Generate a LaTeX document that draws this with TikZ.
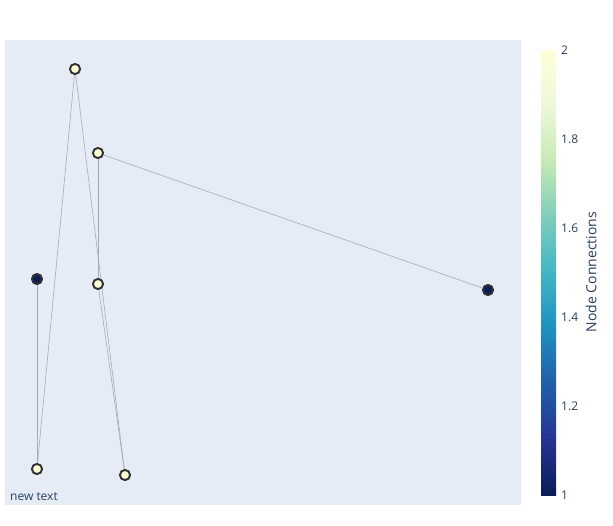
\documentclass[tikz,border=0pt]{standalone}
\usepackage{fontspec}
\setmainfont{Open Sans}
\definecolor{plotbg}{RGB}{229,236,246}
\definecolor{fontc}{RGB}{42,63,95}
\definecolor{edgec}{RGB}{170,170,178}
\definecolor{ring}{RGB}{50,50,50}
\definecolor{cA}{RGB}{8,29,88}
\definecolor{cB}{RGB}{37,52,148}
\definecolor{cC}{RGB}{34,94,168}
\definecolor{cD}{RGB}{29,145,192}
\definecolor{cE}{RGB}{65,182,196}
\definecolor{cF}{RGB}{127,205,187}
\definecolor{cG}{RGB}{199,233,180}
\definecolor{cH}{RGB}{237,248,217}
\definecolor{cI}{RGB}{255,255,217}
\tikzset{
  gnode/.style={circle,draw=ring,line width=1.8pt,minimum size=10pt,inner sep=0pt},
  hi/.style={gnode,fill=cI},
  lo/.style={gnode,fill=cA},
  edge/.style={draw=edgec,line width=0.6pt},
  tick/.style={anchor=west,text=fontc,font=\fontsize{12}{14}\selectfont,inner sep=0pt}
}
\begin{document}
\begin{tikzpicture}[x=1pt,y=-1pt]
\useasboundingbox[fill=white] (0,0) rectangle (613,525);
\fill[plotbg] (5,40) rectangle (521,505);
% nodes
\node[hi] (a) at (75,69) {};
\node[hi] (b) at (98,153) {};
\node[lo] (c) at (37,279) {};
\node[hi] (d) at (98,284) {};
\node[lo] (e) at (488,290) {};
\node[hi] (f) at (37,469) {};
\node[hi] (g) at (125,475) {};
\begin{scope}[on background layer/.try]
\end{scope}
\draw[edge] (a.center) -- (f.center);
\draw[edge] (a.center) -- (g.center);
\draw[edge] (b.center) -- (d.center);
\draw[edge] (b.center) -- (e.center);
\draw[edge] (c.center) -- (f.center);
\draw[edge] (d.center) -- (g.center);
\node[hi] at (a) {};
\node[hi] at (b) {};
\node[lo] at (c) {};
\node[hi] at (d) {};
\node[lo] at (e) {};
\node[hi] at (f) {};
\node[hi] at (g) {};
% colorbar
\shade[top color=cB,bottom color=cA] (541,439.375) rectangle (556,495);
\shade[top color=cC,bottom color=cB] (541,383.75) rectangle (556,439.375);
\shade[top color=cD,bottom color=cC] (541,328.125) rectangle (556,383.75);
\shade[top color=cE,bottom color=cD] (541,272.5) rectangle (556,328.125);
\shade[top color=cF,bottom color=cE] (541,216.875) rectangle (556,272.5);
\shade[top color=cG,bottom color=cF] (541,161.25) rectangle (556,216.875);
\shade[top color=cH,bottom color=cG] (541,105.625) rectangle (556,161.25);
\shade[top color=cI,bottom color=cH] (541,50) rectangle (556,105.625);
\node[tick] (t1) at (561,495) {1};
\node[tick] (t2) at (561,406) {1.2};
\node[tick] (t3) at (561,317) {1.4};
\node[tick] (t4) at (561,228) {1.6};
\node[tick] (t5) at (561,139) {1.8};
\node[tick] (t6) at (561,50) {2};
\node[text=fontc,font=\fontsize{14}{16}\selectfont,rotate=90,inner sep=0pt] (title) at (591,272) {Node Connections};
\node[anchor=west,text=fontc,font=\fontsize{12}{14}\selectfont,inner sep=0pt] (nt) at (10,497) {new text};
\end{tikzpicture}
\end{document}
